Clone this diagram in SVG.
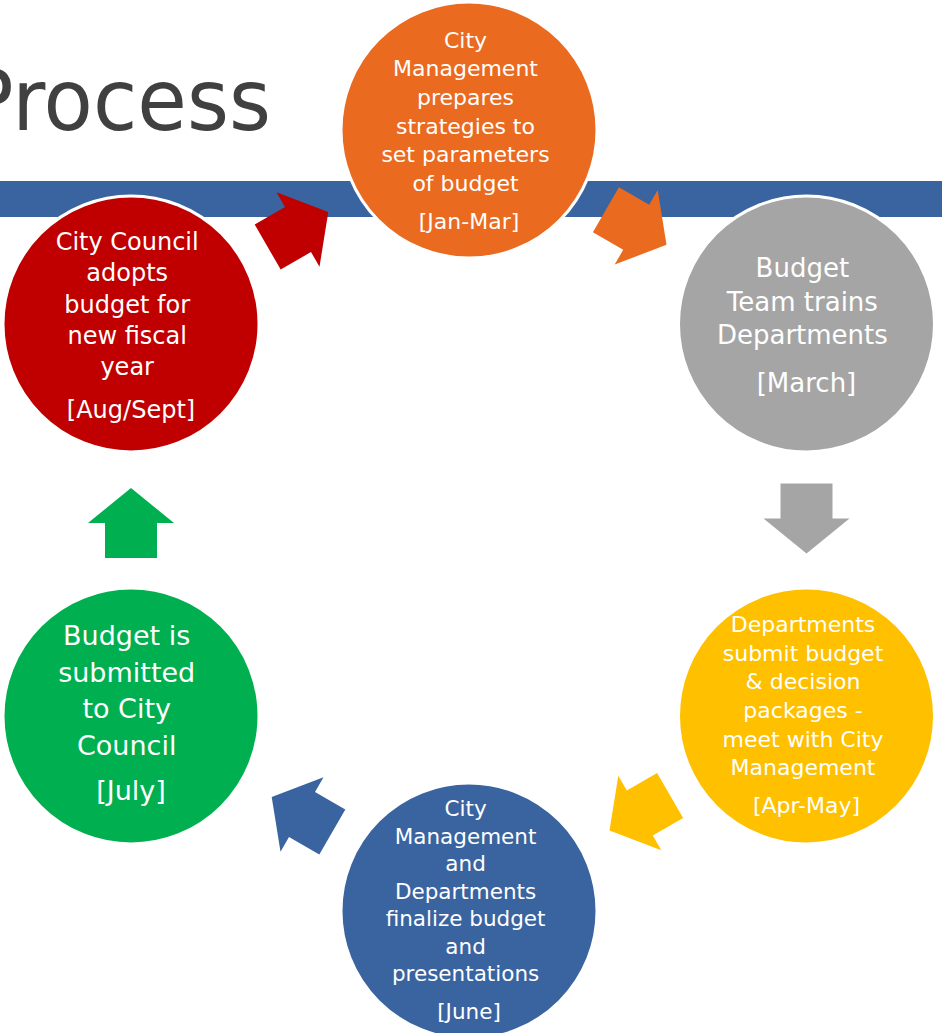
<svg xmlns="http://www.w3.org/2000/svg" xmlns:xlink="http://www.w3.org/1999/xlink" width="942" height="1033" viewBox="0 0 942 1033">
<style>
.node circle { stroke: #FFFFFF; stroke-width: 3; }
.lbl { font-family: "DejaVu Sans", "Liberation Sans", sans-serif; fill: #FFFFFF; text-anchor: middle; }
.title { font-family: "DejaVu Sans", "Liberation Sans", sans-serif; fill: #404040; font-size: 86px; }
</style>
<defs>
<path id="arr" d="M-35,-26 L0,-26 L0,-43 L35,0 L0,43 L0,26 L-35,26 Z"/>
</defs>
<rect x="0" y="0" width="942" height="1033" fill="#FFFFFF"/>
<text class="title" x="-35" y="130" textLength="306" lengthAdjust="spacingAndGlyphs">Process</text>
<rect x="0" y="181" width="942" height="36" fill="#3A64A0"/>

<g id="connectors">
<use xlink:href="#arr" href="#arr" fill="#C00000" transform="translate(298,229.5) rotate(-30)"/>
<use xlink:href="#arr" href="#arr" fill="#EA6A1F" transform="translate(636.2,227.3) rotate(30)"/>
<use xlink:href="#arr" href="#arr" fill="#A5A5A5" transform="translate(806.5,518.5) rotate(90)"/>
<use xlink:href="#arr" href="#arr" fill="#FFC000" transform="translate(639.8,813.1) rotate(150)"/>
<use xlink:href="#arr" href="#arr" fill="#3A64A0" transform="translate(302,814.5) rotate(210)"/>
<use xlink:href="#arr" href="#arr" fill="#00B050" transform="translate(131,523) rotate(-90)"/>
</g>

<g id="node-jan-mar" class="node">
<circle cx="469" cy="130" r="128" fill="#EA6A1F"/>
<text class="lbl" font-size="22">
<tspan x="469" y="47.5">City</tspan>
<tspan x="469" y="76.2">Management</tspan>
<tspan x="469" y="104.9">prepares</tspan>
<tspan x="469" y="133.6">strategies to</tspan>
<tspan x="469" y="162.3">set parameters</tspan>
<tspan x="469" y="191">of budget</tspan>
<tspan x="469" y="229">[Jan-Mar]</tspan>
</text>
</g>

<g id="node-march" class="node">
<circle cx="806.5" cy="324" r="128" fill="#A5A5A5"/>
<text class="lbl" font-size="26">
<tspan x="806.5" y="277">Budget</tspan>
<tspan x="806.5" y="310.5">Team trains</tspan>
<tspan x="806.5" y="344">Departments</tspan>
<tspan x="806.5" y="392">[March]</tspan>
</text>
</g>

<g id="node-apr-may" class="node">
<circle cx="806.5" cy="716" r="128" fill="#FFC000"/>
<text class="lbl" font-size="22">
<tspan x="806.5" y="631.7">Departments</tspan>
<tspan x="806.5" y="660.5">submit budget</tspan>
<tspan x="806.5" y="689">&amp; decision</tspan>
<tspan x="806.5" y="717.7">packages -</tspan>
<tspan x="806.5" y="746.5">meet with City</tspan>
<tspan x="806.5" y="775">Management</tspan>
<tspan x="806.5" y="813">[Apr-May]</tspan>
</text>
</g>

<g id="node-june" class="node">
<circle cx="469" cy="911" r="128" fill="#3A64A0"/>
<text class="lbl" font-size="21.5">
<tspan x="469" y="816">City</tspan>
<tspan x="469" y="843.5">Management</tspan>
<tspan x="469" y="871">and</tspan>
<tspan x="469" y="898.5">Departments</tspan>
<tspan x="469" y="926">finalize budget</tspan>
<tspan x="469" y="953.5">and</tspan>
<tspan x="469" y="981">presentations</tspan>
<tspan x="469" y="1019">[June]</tspan>
</text>
</g>

<g id="node-july" class="node">
<circle cx="131" cy="716" r="128" fill="#00B050"/>
<text class="lbl" font-size="27">
<tspan x="131" y="645">Budget is</tspan>
<tspan x="131" y="681.7">submitted</tspan>
<tspan x="131" y="718.4">to City</tspan>
<tspan x="131" y="755">Council</tspan>
<tspan x="131" y="800">[July]</tspan>
</text>
</g>

<g id="node-aug-sept" class="node">
<circle cx="131" cy="324" r="128" fill="#C00000"/>
<text class="lbl" font-size="24">
<tspan x="131" y="250">City Council</tspan>
<tspan x="131" y="281.3">adopts</tspan>
<tspan x="131" y="312.6">budget for</tspan>
<tspan x="131" y="344">new fiscal</tspan>
<tspan x="131" y="375.3">year</tspan>
<tspan x="131" y="418">[Aug/Sept]</tspan>
</text>
</g>
</svg>
